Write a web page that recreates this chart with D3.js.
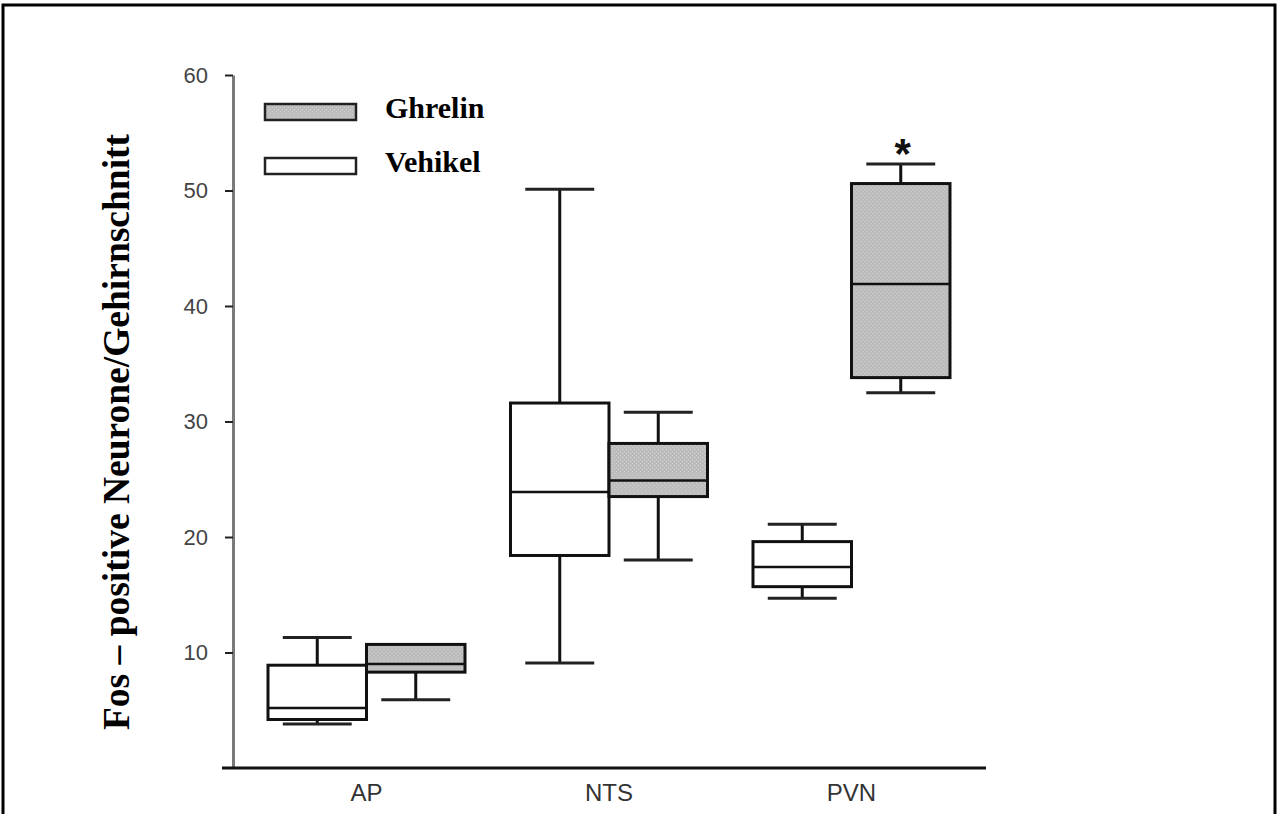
<!DOCTYPE html>
<html>
<head>
<meta charset="utf-8">
<script src="https://cdn.jsdelivr.net/npm/d3@7"></script>
<style>
  html, body { margin: 0; padding: 0; background: #fff; }
  svg { display: block; }
</style>
</head>
<body>
<div class="svg"></div>
<script>
// regions and groups
var categories = ["AP", "NTS", "PVN"];
var groups = ["Vehikel", "Ghrelin"];

// box stats, one value per region
var vehikelMin = [3.8, 9.1, 14.7];
var vehikelQ1 = [4.2, 18.4, 15.7];
var vehikelMed = [5.2, 23.9, 17.4];
var vehikelQ3 = [8.9, 31.6, 19.6];
var vehikelMax = [11.3, 50.1, 21.1];

var ghrelinMin = [5.9, 18.0, 32.5];
var ghrelinQ1 = [8.3, 23.5, 33.8];
var ghrelinMed = [9.0, 24.9, 41.9];
var ghrelinQ3 = [10.7, 28.1, 50.6];
var ghrelinMax = [10.7, 30.8, 52.3];

var yTicks = [10, 20, 30, 40, 50, 60];
var significant = [{ key: "PVN", group: "Ghrelin", label: "*" }];

window.onload = function() {
  var d3 = window.d3;
  var w = 1278;
  var h = 814;

  var boxes = [];
  categories.forEach(function(c, i) {
    boxes.push({ cat: c, group: "Vehikel", min: vehikelMin[i], q1: vehikelQ1[i], med: vehikelMed[i], q3: vehikelQ3[i], max: vehikelMax[i] });
    boxes.push({ cat: c, group: "Ghrelin", min: ghrelinMin[i], q1: ghrelinQ1[i], med: ghrelinMed[i], q3: ghrelinQ3[i], max: ghrelinMax[i] });
  });

  var svg = d3.select(".svg").append("svg").attr("width", w).attr("height", h);

  // dotted grey fill like the scanned figure
  var defs = svg.append("defs");
  var pat = defs.append("pattern").attr("id", "dots")
    .attr("width", 4).attr("height", 4).attr("patternUnits", "userSpaceOnUse");
  pat.append("rect").attr("width", 4).attr("height", 4).attr("fill", "#bcbcbc");
  pat.append("rect").attr("x", 1).attr("y", 1).attr("width", 1).attr("height", 1).attr("fill", "#d6d6d6");
  pat.append("rect").attr("x", 3).attr("y", 3).attr("width", 1).attr("height", 1).attr("fill", "#d0d0d0");

  // frame (open at the bottom)
  svg.append("path")
     .attr("d", "M3,818 L3,5 L1275,5 L1275,818")
     .attr("fill", "none").attr("stroke", "#000").attr("stroke-width", 3);

  var yScale = d3.scaleLinear().domain([0, 60]).range([768, 75]);
  var xScale = d3.scaleBand().domain(categories).range([268, 950])
                 .paddingInner(0.1876).paddingOuter(0);
  var gScale = d3.scaleBand().domain(groups).range([0, xScale.bandwidth()]);

  // y axis
  var yAxis = d3.axisLeft(yScale).tickValues(yTicks).tickSize(8).tickPadding(17).tickSizeOuter(0);
  var yg = svg.append("g").attr("transform", "translate(233,0)").call(yAxis);
  yg.select(".domain").attr("stroke", "#7a7a7a").attr("stroke-width", 3);
  yg.selectAll(".tick line").attr("stroke", "#222").attr("stroke-width", 2);
  yg.selectAll(".tick text")
    .attr("font-family", "Liberation Sans, Arial, sans-serif")
    .attr("font-size", 22).attr("fill", "#444");

  // x axis line and labels
  svg.append("line").attr("x1", 222).attr("x2", 986)
     .attr("y1", yScale(0)).attr("y2", yScale(0))
     .attr("stroke", "#111").attr("stroke-width", 3);

  svg.selectAll(".xlab").data(categories).enter().append("text")
     .attr("class", "xlab")
     .attr("x", function(d) { return xScale(d) + xScale.bandwidth() / 2; })
     .attr("y", 801)
     .attr("text-anchor", "middle")
     .attr("font-family", "Liberation Sans Narrow, Liberation Sans, Arial, sans-serif")
     .attr("font-size", 24).attr("fill", "#333")
     .text(function(d) { return d; });

  // boxes
  var bw = gScale.bandwidth();
  var capW = bw * 0.7;
  var bx = svg.selectAll(".box").data(boxes).enter().append("g").attr("class", "box")
    .attr("transform", function(d) { return "translate(" + (xScale(d.cat) + gScale(d.group)) + ",0)"; });

  // whiskers
  bx.append("line")
    .attr("x1", bw / 2).attr("x2", bw / 2)
    .attr("y1", function(d) { return yScale(d.max); })
    .attr("y2", function(d) { return yScale(d.min); })
    .attr("stroke", "#111").attr("stroke-width", 3);

  bx.append("line")
    .attr("x1", bw / 2 - capW / 2).attr("x2", bw / 2 + capW / 2)
    .attr("y1", function(d) { return yScale(d.max); })
    .attr("y2", function(d) { return yScale(d.max); })
    .attr("stroke", "#222").attr("stroke-width", function(d) { return d.max > d.q3 ? 3 : 0; });

  bx.append("line")
    .attr("x1", bw / 2 - capW / 2).attr("x2", bw / 2 + capW / 2)
    .attr("y1", function(d) { return yScale(d.min); })
    .attr("y2", function(d) { return yScale(d.min); })
    .attr("stroke", "#222").attr("stroke-width", 3);

  bx.append("rect")
    .attr("x", 0).attr("width", bw)
    .attr("y", function(d) { return yScale(d.q3); })
    .attr("height", function(d) { return yScale(d.q1) - yScale(d.q3); })
    .attr("fill", function(d) { return d.group === "Ghrelin" ? "url(#dots)" : "#fff"; })
    .attr("stroke", "#111").attr("stroke-width", 3);

  bx.append("line")
    .attr("x1", 0).attr("x2", bw)
    .attr("y1", function(d) { return yScale(d.med); })
    .attr("y2", function(d) { return yScale(d.med); })
    .attr("stroke", "#111").attr("stroke-width", 2.5);

  // significance marker
  svg.selectAll(".sig").data(significant).enter().append("text")
     .attr("class", "sig")
     .attr("x", function(d) { return xScale(d.key) + gScale(d.group) + bw / 2 + 2; })
     .attr("y", function(d) {
       var b = boxes.filter(function(e) { return e.cat === d.key && e.group === d.group; })[0];
       return yScale(b.max) + 4;
     })
     .attr("text-anchor", "middle")
     .attr("font-family", "Liberation Sans, Arial, sans-serif")
     .attr("font-weight", "bold")
     .attr("font-size", 42)
     .attr("fill", "#111")
     .text(function(d) { return d.label; });

  // legend
  var legend = svg.append("g").attr("transform", "translate(265,104)");
  var li = legend.selectAll(".leg").data(groups.slice().reverse()).enter().append("g")
    .attr("class", "leg")
    .attr("transform", function(d, i) { return "translate(0," + (i * 54) + ")"; });
  li.append("rect").attr("width", 91).attr("height", 16)
    .attr("fill", function(d) { return d === "Ghrelin" ? "url(#dots)" : "#fff"; })
    .attr("stroke", "#222").attr("stroke-width", 2.5);
  li.append("text").attr("x", 120).attr("y", 14)
    .attr("font-family", "Liberation Serif, Times New Roman, serif")
    .attr("font-weight", "bold").attr("font-size", 30).attr("fill", "#000")
    .text(function(d) { return d; });

  // y axis title
  svg.append("text")
     .attr("transform", "translate(129,432) rotate(-90)")
     .attr("text-anchor", "middle")
     .attr("font-family", "Liberation Serif, Times New Roman, serif")
     .attr("font-weight", "bold").attr("font-size", 37.5).attr("fill", "#000")
     .text("Fos – positive Neurone/Gehirnschnitt");
};
</script>
</body>
</html>
